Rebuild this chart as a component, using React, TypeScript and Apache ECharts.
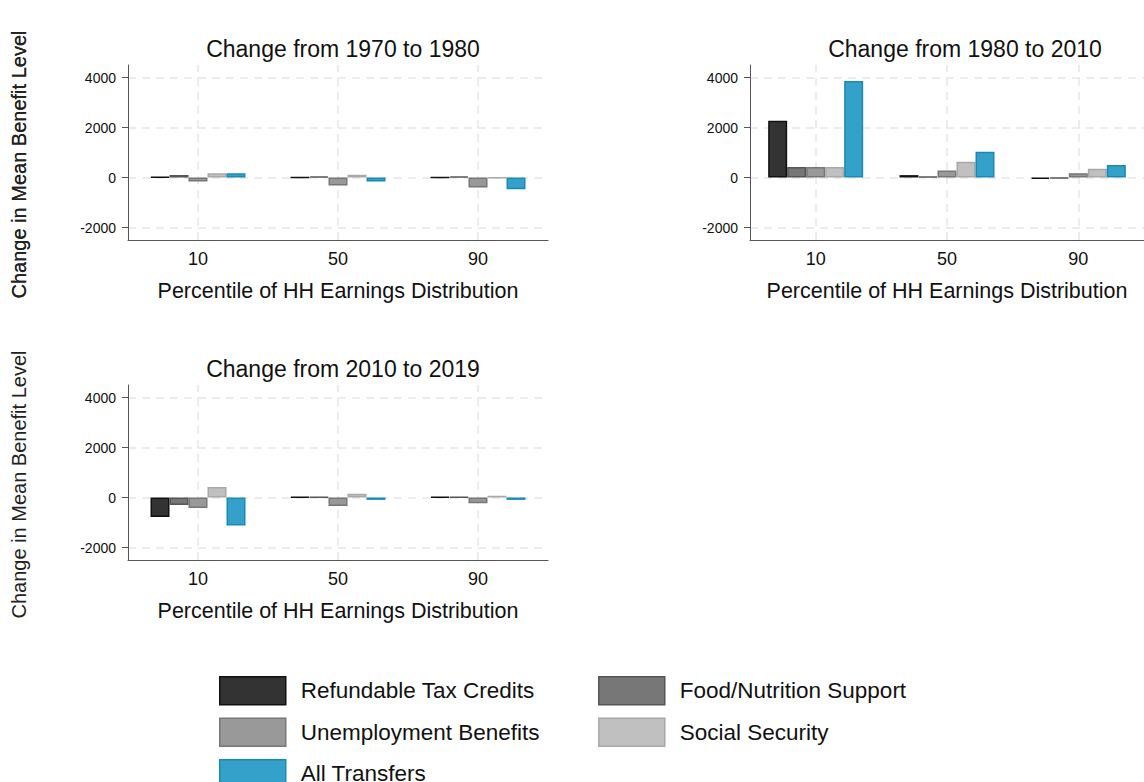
import { useEffect, useRef } from 'react';
import * as echarts from 'echarts';

const percentiles = ['10', '50', '90'];
const seriesNames = [
  'Refundable Tax Credits',
  'Food/Nutrition Support',
  'Unemployment Benefits',
  'Social Security',
  'All Transfers',
];
const panelTitles = ['Change from 1970 to 1980', 'Change from 1980 to 2010', 'Change from 2010 to 2019'];

// values per panel, per series, per percentile (10, 50, 90)
const p1970 = [
  [20, 0, 0],
  [100, 50, 50],
  [-160, -320, -400],
  [170, 110, -20],
  [170, -160, -470],
];
const p1980 = [
  [2270, 95, -60],
  [420, 40, -30],
  [420, 280, 175],
  [420, 635, 350],
  [3860, 1030, 500],
];
const p2010 = [
  [-775, 20, 30],
  [-300, 20, 20],
  [-420, -340, -230],
  [420, 150, 70],
  [-1115, -95, -95],
];
const yTicks = [-2000, 0, 2000, 4000];

const fills = ['#333333', '#777777', '#999999', '#c0c0c0', '#33a1c9'];
const borders = ['#111111', '#555555', '#777777', '#a8a8a8', '#1a8ab5'];

const panels = [
  { data: p1970, left: 128, top: 65 },
  { data: p1980, left: 750, top: 65 },
  { data: p2010, left: 128, top: 385 },
];
const W = 420;
const H = 175;

export default function App() {
  const ref = useRef<HTMLDivElement>(null);

  useEffect(() => {
    if (!ref.current) return;
    const chart = echarts.init(ref.current, undefined, { renderer: 'svg' });
    const font = 'Arial, "Liberation Sans", sans-serif';
    const grid: any[] = [];
    const xAxis: any[] = [];
    const yAxis: any[] = [];
    const series: any[] = [];
    const title: any[] = [];
    const graphic: any[] = [];

    panels.forEach((p, i) => {
      grid.push({ left: p.left, top: p.top, width: W, height: H });
      title.push({
        text: panelTitles[i],
        left: p.left + W / 2,
        top: p.top - 33,
        textAlign: 'center',
        textStyle: { fontFamily: font, fontSize: 23, fontWeight: 'normal', color: '#111' },
      });
      graphic.push({
        type: 'text',
        x: 9,
        y: p.top + H / 2 + 12,
        rotation: Math.PI / 2,
        style: {
          text: 'Change in Mean Benefit Level',
          font: `normal 20px ${font}`,
          fill: '#222',
          textAlign: 'center',
          textVerticalAlign: 'top',
        },
      });
      xAxis.push({
        gridIndex: i,
        type: 'category',
        data: percentiles,
        name: 'Percentile of HH Earnings Distribution',
        nameLocation: 'middle',
        nameGap: 40,
        nameTextStyle: { fontFamily: font, fontSize: 21.5, color: '#111' },
        axisLine: { onZero: false, lineStyle: { color: '#555' } },
        axisTick: { show: false },
        axisLabel: { fontFamily: font, fontSize: 18, color: '#111', margin: 10 },
      });
      yAxis.push({
        gridIndex: i,
        type: 'value',
        min: -2500,
        max: 4500,
        interval: 500,
        axisLine: { show: true, lineStyle: { color: '#555' } },
        axisTick: { show: false },
        splitLine: { show: false },
        axisLabel: {
          fontFamily: font,
          fontSize: 14,
          color: '#111',
          margin: 12,
          formatter: (v: number) => (yTicks.includes(v) ? String(v) : ''),
        },
      });
      series.push({
        type: 'line',
        xAxisIndex: i,
        yAxisIndex: i,
        data: [],
        silent: true,
        z: 0,
        markLine: {
          silent: true,
          symbol: 'none',
          z: 0,
          label: { show: false },
          lineStyle: { color: '#e6e6e6', type: [8, 6], width: 1.5 },
          data: [
            ...yTicks.map((v) => ({ yAxis: v })),
            ...percentiles.map((c) => ({ xAxis: c })),
          ],
        },
      });
      seriesNames.forEach((name, s) => {
        series.push({
          name,
          type: 'bar',
          xAxisIndex: i,
          yAxisIndex: i,
          barWidth: 19,
          barGap: '0%',
          data: p.data[s],
          itemStyle: { color: fills[s], borderColor: borders[s], borderWidth: 1.5 },
          z: 3,
        });
      });
      yTicks.forEach((v) => {
        const y = p.top + H * (4500 - v) / 7000;
        graphic.push({
          type: 'line',
          shape: { x1: p.left - 6, y1: y, x2: p.left, y2: y },
          style: { stroke: '#555', lineWidth: 1 },
        });
      });
    });

    const legendCommon = {
      orient: 'vertical',
      icon: 'rect',
      height: 200,
      itemWidth: 66,
      itemHeight: 28,
      itemGap: 12,
      padding: 0,
      itemStyle: { borderWidth: 1.5 },
      textStyle: { fontFamily: font, fontSize: 22.5, color: '#111', padding: [0, 0, 0, 10], lineHeight: 28 },
    };

    chart.setOption({
      animation: false,
      title,
      grid,
      xAxis,
      yAxis,
      series,
      graphic,
      legend: [
        { ...legendCommon, left: 219, top: 676, data: [seriesNames[0], seriesNames[2], seriesNames[4]] },
        { ...legendCommon, left: 598, top: 676, data: [seriesNames[1], seriesNames[3]] },
      ],
    });
    return () => chart.dispose();
  }, []);

  return <div ref={ref} style={{ position: 'fixed', left: 0, top: 0, width: 1144, height: 782, background: '#fff' }} />;
}
